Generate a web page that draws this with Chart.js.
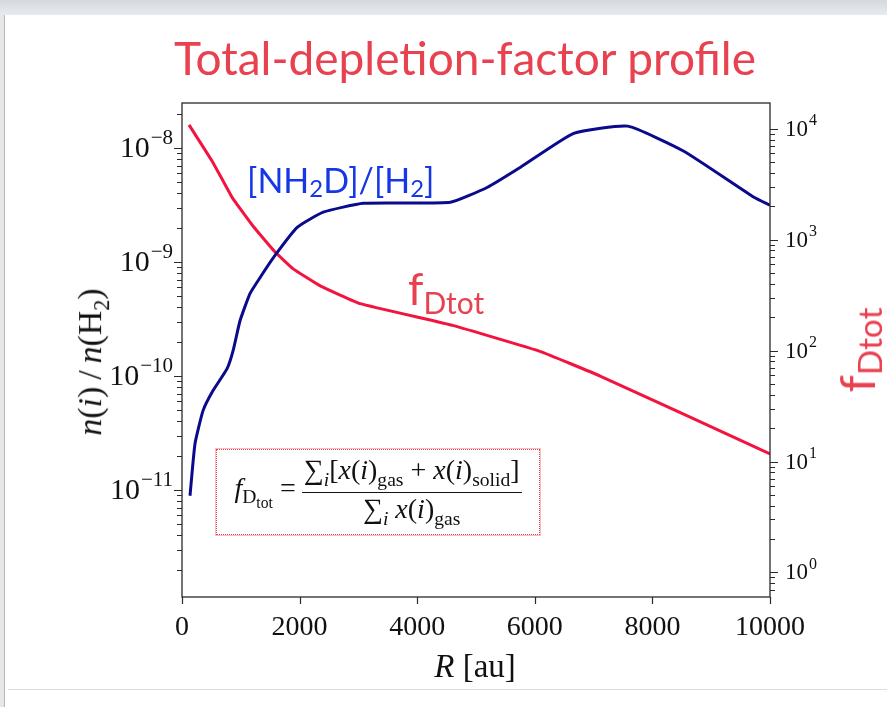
<!DOCTYPE html>
<html>
<head>
  <title>Total-depletion-factor profile</title>
  <script src="https://cdn.jsdelivr.net/npm/chart.js"></script>
  <style>
    body {
      margin: 0;
      width: 887px;
      height: 707px;
      position: relative;
      overflow: hidden;
      background: #fff;
      font-family: Lato, sans-serif;
    }
    .topband {
      position: absolute; left: 0; top: 0; width: 887px; height: 15px;
      background: linear-gradient(#d5d9de, #e8ebee);
    }
    .leftedge {
      position: absolute; left: 0; top: 15px; width: 4px; height: 692px;
      background: #e4e6e8; border-right: 1px solid #b4b7bb;
    }
    .bottomline {
      position: absolute; left: 8px; top: 689px; width: 879px; height: 1px;
      background: #dddddd;
    }
    #chart-box {
      position: absolute; left: 0; top: 0; width: 887px; height: 707px;
    }
    #title {
      position: absolute; left: 165px; top: 30px; width: 600px;
      text-align: center; color: #e8414f; font-size: 46px; white-space: nowrap;
    }
    .note { position: absolute; white-space: nowrap; }
    #nh2d { left: 247px; top: 159px; color: #1537e6; font-size: 34px; }
    #fdlabel { left: 408px; top: 262px; color: #e8414f; font-size: 44px; }
    .sub-s { font-size: 0.7em; vertical-align: -0.18em; }
    .sub-m { font-size: 0.68em; vertical-align: -0.3em; }
    #ylab {
      left: 93px; top: 362px; transform: translate(-50%, -50%) rotate(-90deg);
      font-family: "Liberation Serif", serif; font-size: 34px; color: #111;
    }
    #y2lab {
      left: 859px; top: 350px; transform: translate(-50%, -50%) rotate(-90deg);
      color: #e8414f; font-size: 49px; line-height: 1;
    }
    #y2lab .sub-m { vertical-align: -0.2em; }
    #xlab {
      left: 475px; top: 666px; transform: translate(-50%, -50%);
      font-family: "Liberation Serif", serif; font-size: 33px; color: #111;
    }
    #formula {
      position: absolute; left: 216px; top: 449px; width: 322px; height: 84px;
      border: 1px dotted #e8414f; outline: 1px solid rgba(232,65,79,0.35);
      font-family: "Liberation Serif", serif; color: #111; font-size: 28px;
      display: flex; align-items: center; justify-content: center;
    }
    #formula .frac { display: inline-flex; flex-direction: column; align-items: center; margin-left: 6px; }
    #formula .num { border-bottom: 1.5px solid #111; padding: 0 2px 1px; line-height: 1.05; }
    #formula .den { padding-top: 1px; line-height: 1.05; }
    #formula sub { font-size: 0.7em; font-style: normal; }
  </style>
</head>
<body>
  <div class="topband"></div>
  <div class="leftedge"></div>
  <div class="bottomline"></div>
  <div id="chart-box"><canvas id="depletionChart"></canvas></div>
  <div id="title">Total-depletion-factor profile</div>
  <div class="note" id="nh2d">[NH<span class="sub-s">2</span>D]/[H<span class="sub-s">2</span>]</div>
  <div class="note" id="fdlabel">f<span class="sub-m">Dtot</span></div>
  <div class="note" id="ylab"><i>n</i>(<i>i</i>)&thinsp;/&thinsp;<i>n</i>(H<sub style="font-size:0.65em">2</sub>)</div>
  <div class="note" id="y2lab">f<span class="sub-m">Dtot</span></div>
  <div class="note" id="xlab"><i>R</i> [au]</div>
  <div id="formula">
    <span><i>f</i><sub>D<sub style="font-size:0.8em">tot</sub></sub> =</span>
    <span class="frac">
      <span class="num">&sum;<sub><i>i</i></sub>[<i>x</i>(<i>i</i>)<sub>gas</sub> + <i>x</i>(<i>i</i>)<sub>solid</sub>]</span>
      <span class="den">&sum;<sub><i>i</i></sub> <i>x</i>(<i>i</i>)<sub>gas</sub></span>
    </span>
  </div>
  <script>
    // [NH2D]/[H2] abundance profile (left axis)
    const nh2dRadius = [136, 221, 358, 528, 767, 869, 988, 1158, 1329, 1584, 1959, 2402,
      3083, 4566, 5196, 5758, 6661, 7581, 8535, 9727, 10000];
    const nh2dValues = [8.9e-12, 2.55e-11, 4.97e-11, 7.45e-11, 1.16e-10, 1.67e-10, 3.07e-10,
      5.31e-10, 7.33e-10, 1.15e-9, 2.02e-9, 2.74e-9, 3.28e-9, 3.35e-9, 4.54e-9, 6.81e-9,
      1.35e-8, 1.56e-8, 9.4e-9, 3.71e-9, 3.16e-9];

    // total depletion factor (right axis)
    const fdRadius = [119, 528, 852, 1210, 1584, 1891, 2351, 3032, 4617, 6099, 7121, 8484, 10000];
    const fdValues = [10860, 4955, 2410, 1324, 774, 546, 384, 265, 168, 98, 58.7, 27.4, 11.7];

    // axis ranges
    const xTicks = [0, 2000, 4000, 6000, 8000, 10000];
    const leftRange = [1.15e-12, 2.49e-8];
    const rightRange = [0.64, 17100];

    function logTicks(min, max) {
      const out = [];
      for (let e = Math.floor(Math.log10(min)); e <= Math.ceil(Math.log10(max)); e++) {
        for (let d = 1; d <= 9; d++) {
          const v = d * Math.pow(10, e);
          if (v >= min && v <= max) out.push({ value: v, major: d === 1 });
        }
      }
      return out;
    }

    const serif = "'Liberation Serif', 'DejaVu Serif', serif";

    // draws "10" with a raised exponent, right- or left-aligned at x
    function powerLabel(ctx, x, y, e, size, expSize, align) {
      const base = '10';
      const exp = e < 0 ? '\u2212' + Math.abs(e) : String(e);
      ctx.font = size + 'px ' + serif;
      const wb = ctx.measureText(base).width;
      ctx.font = expSize + 'px ' + serif;
      const we = ctx.measureText(exp).width;
      const x0 = align === 'right' ? x - wb - we : x;
      ctx.textBaseline = 'middle';
      ctx.textAlign = 'left';
      ctx.font = size + 'px ' + serif;
      ctx.fillText(base, x0, y + 1);
      ctx.font = expSize + 'px ' + serif;
      ctx.fillText(exp, x0 + wb + 1, y - size * 0.33);
    }

    // outward tick marks, y tick labels and the box around the plot
    const frame = {
      id: 'frame',
      afterDraw(chart) {
        const { ctx, chartArea: a } = chart;
        const ys = chart.scales.y, y2s = chart.scales.y2, xs = chart.scales.x;
        ctx.save();
        ctx.strokeStyle = '#2a2a2a';
        ctx.lineWidth = 1.3;
        ctx.strokeRect(a.left, a.top, a.right - a.left, a.bottom - a.top);
        ctx.lineWidth = 1.2;
        ctx.beginPath();
        ys.ticks.forEach(t => {
          const p = Math.round(ys.getPixelForValue(t.value)) + 0.5;
          ctx.moveTo(a.left, p); ctx.lineTo(a.left - (t.major ? 8 : 5), p);
        });
        y2s.ticks.forEach(t => {
          const p = Math.round(y2s.getPixelForValue(t.value)) + 0.5;
          ctx.moveTo(a.right, p); ctx.lineTo(a.right + (t.major ? 8 : 5), p);
        });
        xs.ticks.forEach(t => {
          const p = Math.round(xs.getPixelForValue(t.value)) + 0.5;
          ctx.moveTo(p, a.bottom); ctx.lineTo(p, a.bottom + 7);
        });
        ctx.stroke();
        ctx.fillStyle = '#111';
        ys.ticks.filter(t => t.major).forEach(t => {
          powerLabel(ctx, a.left - 10, ys.getPixelForValue(t.value), Math.round(Math.log10(t.value)), 30, 21, 'right');
        });
        y2s.ticks.filter(t => t.major).forEach(t => {
          powerLabel(ctx, a.right + 15, y2s.getPixelForValue(t.value), Math.round(Math.log10(t.value)), 23, 16, 'left');
        });
        ctx.restore();
      }
    };

    new Chart(document.getElementById('depletionChart'), {
      type: 'scatter',
      data: {
        datasets: [
          {
            label: '[NH2D]/[H2]',
            data: nh2dRadius.map((r, i) => ({ x: r, y: nh2dValues[i] })),
            yAxisID: 'y',
            showLine: true,
            borderColor: '#0a0a8c',
            borderWidth: 3,
            pointRadius: 0,
            tension: 0.15
          },
          {
            label: 'fDtot',
            data: fdRadius.map((r, i) => ({ x: r, y: fdValues[i] })),
            yAxisID: 'y2',
            showLine: true,
            borderColor: '#f2143f',
            borderWidth: 3,
            pointRadius: 0,
            tension: 0.1
          }
        ]
      },
      options: {
        responsive: true,
        maintainAspectRatio: false,
        animation: false,
        layout: { padding: { top: 103, left: 0, right: 0, bottom: 0 } },
        plugins: { legend: { display: false }, tooltip: { enabled: false } },
        scales: {
          x: {
            type: 'linear',
            min: 0,
            max: 10000,
            afterBuildTicks: s => { s.ticks = xTicks.map(v => ({ value: v })); },
            afterFit: s => { s.height = 110; },
            grid: { display: false },
            border: { display: false },
            ticks: {
              color: '#111', font: { family: serif, size: 28 }, padding: 6,
              maxRotation: 0, autoSkip: false, callback: v => String(v)
            }
          },
          y: {
            type: 'logarithmic',
            position: 'left',
            min: leftRange[0],
            max: leftRange[1],
            afterBuildTicks: s => { s.ticks = logTicks(leftRange[0], leftRange[1]); },
            afterFit: s => { s.width = 182; },
            grid: { display: false },
            border: { display: false },
            ticks: { display: false }
          },
          y2: {
            type: 'logarithmic',
            position: 'right',
            min: rightRange[0],
            max: rightRange[1],
            afterBuildTicks: s => { s.ticks = logTicks(rightRange[0], rightRange[1]); },
            afterFit: s => { s.width = 117; },
            grid: { display: false },
            border: { display: false },
            ticks: { display: false }
          }
        }
      },
      plugins: [frame]
    });
  </script>
</body>
</html>
